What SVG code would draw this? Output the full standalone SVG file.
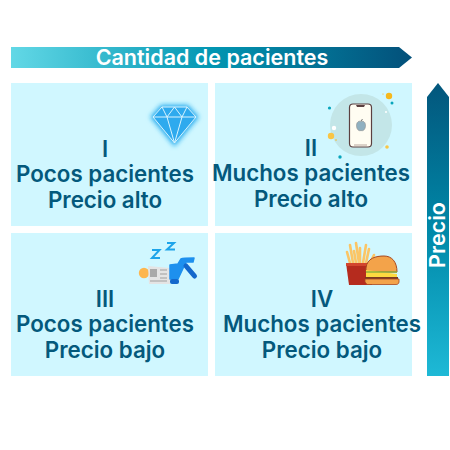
<svg xmlns="http://www.w3.org/2000/svg" width="450" height="450" viewBox="0 0 450 450">
<style>
.p{fill:#d0f7ff}
.t{font-family:Inter,"Liberation Sans",sans-serif;font-weight:600;font-size:22.300px;fill:#04597c;text-anchor:middle}
.h{font-family:Inter,"Liberation Sans",sans-serif;font-weight:600;font-size:21.500px;fill:#fff;text-anchor:middle}
.f{stroke:#fbc565;stroke-width:2.600;stroke-linecap:round;fill:none}
</style>
<defs>
<linearGradient id="g1" x1="0" y1="0" x2="1" y2="0"><stop offset="0" stop-color="#62d8e6"/><stop offset="0.5" stop-color="#0296b2"/><stop offset="1" stop-color="#03507a"/></linearGradient>
<linearGradient id="g2" x1="0" y1="0" x2="0" y2="1"><stop offset="0" stop-color="#03567c"/><stop offset="0.5" stop-color="#0088a8"/><stop offset="1" stop-color="#1eb9d6"/></linearGradient>
<filter id="glow" x="-40%" y="-40%" width="180%" height="180%"><feGaussianBlur stdDeviation="2.500"/></filter>
</defs>
<g id="axis-x"><path d="M11 47H399L412 57.500L399 68H11Z" fill="url(#g1)"/><text class="h" x="212" y="65">Cantidad de pacientes</text></g>
<g id="axis-y"><path d="M427 97L438 83L449 97V376H427Z" fill="url(#g2)"/><text class="h" transform="translate(445 235) rotate(-90)">Precio</text></g>
<g id="q1"><rect class="p" x="11" y="83" width="197" height="143"/>
<g id="diamond"><path d="M162 107H187L196 117L174.500 143L153 117Z" fill="#1da7ee" stroke="#1da7ee" stroke-width="4" filter="url(#glow)"/><path d="M162 107H187L196 117L174.500 143L153 117Z" fill="#2eaaee"/><path d="M162 107H187L196 117L174.500 143L153 117ZM153 117H196M162 107L167 117L174.500 143L182 117L187 107M167 117L174.500 107L182 117" fill="none" stroke="#d8f4ff" stroke-width="1"/></g>
<text class="t" x="105" y="157">I</text><text class="t" x="105" y="182">Pocos pacientes</text><text class="t" x="105" y="208">Precio alto</text></g>
<g id="q2"><rect class="p" x="215" y="83" width="197" height="143"/>
<g id="phone"><circle cx="361" cy="125" r="31" fill="#c3e6e8"/><rect x="349.500" y="104" width="22" height="43" rx="3.500" fill="#fffdf2" stroke="#5b4040" stroke-width="1.200"/><path d="M356 105H365L364 107H357Z" fill="#5b4040"/><path d="M354 145H367" stroke="#b9a9a0"/><path d="M361 121.500C359 120.500 356.500 122 356.500 125.500C356.500 129 358.500 131.500 361 130.500C363.500 131.500 365.500 129 365.500 125.500C365.500 122 363 120.500 361 121.500Z" fill="#8fb0c0" stroke="#8a8a8a" stroke-width=".6"/><path d="M361 121L362.500 119" stroke="#777" stroke-width="1"/>
<circle cx="389" cy="96" r="3.200" fill="#f6b81c"/><circle cx="392" cy="103" r="1.500" fill="#08a5bc"/><circle cx="386" cy="112" r="1" fill="#fff"/><circle cx="329.500" cy="108" r="1.600" fill="#08a5bc"/><circle cx="334" cy="128" r="2.200" fill="#fff"/><circle cx="331" cy="136" r="3.200" fill="#f9c544"/><circle cx="336" cy="140" r=".8" fill="#f6b81c"/><circle cx="387" cy="147" r="1.800" fill="#f9c544"/><circle cx="340" cy="157" r="1.700" fill="#08a5bc"/><circle cx="383" cy="94" r=".6" fill="#f6b81c"/></g>
<text class="t" x="311" y="156">II</text><text class="t" x="311" y="181">Muchos pacientes</text><text class="t" x="311" y="207">Precio alto</text></g>
<g id="q3"><rect class="p" x="11" y="233" width="197" height="143"/>
<g id="sleeper"><path d="M152 250H159.500L152 258H160M167 243H174L167 249.500H175" fill="none" stroke="#1ca4ea" stroke-width="2"/><circle cx="144" cy="273" r="5.200" fill="#fdb64e"/><path d="M148 266L170 268V284H149Z" fill="#e4e4e4"/><rect x="150" y="269" width="7" height="8" fill="#a9a9a9"/><path d="M160 270H167M160 274H167M160 278H167M150 281H167" stroke="#b5b5b5" stroke-width="1.300"/><path d="M170 265L178 264L181 259Q183 258 194 258L193 262H186L178 279H170Z" fill="#1e90ee" stroke="#1e90ee" stroke-linejoin="round" stroke-width="1.500"/><path d="M186 266L194.500 276" stroke="#1468cc" stroke-width="5" stroke-linecap="round"/><rect x="170" y="279" width="9" height="5" rx="2" fill="#1468cc"/></g>
<text class="t" x="105" y="307">III</text><text class="t" x="105" y="332">Pocos pacientes</text><text class="t" x="105" y="358">Precio bajo</text></g>
<g id="q4"><rect class="p" x="215" y="233" width="197" height="143"/>
<g id="food"><path class="f" d="M347 252L350 263M350 245L353 263M356 243L359 263M360 248L360 263M366 245L363 263M369 249L366 263M374 255L370 263M354 251L356 263"/><path d="M346 263H372V285H349Z" fill="#b52b1e"/><rect x="346" y="263" width="26" height="3" fill="#d2452e"/><path d="M366 268C367 258 376 256 384 256C392 256 397 262 397 272H366Z" fill="#f3a34a" stroke="#a8481f"/><path d="M366 270L397 274V278H366Z" fill="#fdd940"/><path d="M366 272H397" stroke="#8fb13c" stroke-width="1.500"/><path d="M365 277H398V280H365Z" fill="#7b3a22"/><path d="M365 279H399V282C399 284 397 284.500 396 284.500H367L365 282Z" fill="#f3a34a" stroke="#a8481f" stroke-width=".8"/></g>
<text class="t" x="322" y="307">IV</text><text class="t" x="322" y="332">Muchos pacientes</text><text class="t" x="322" y="358">Precio bajo</text></g>
</svg>
